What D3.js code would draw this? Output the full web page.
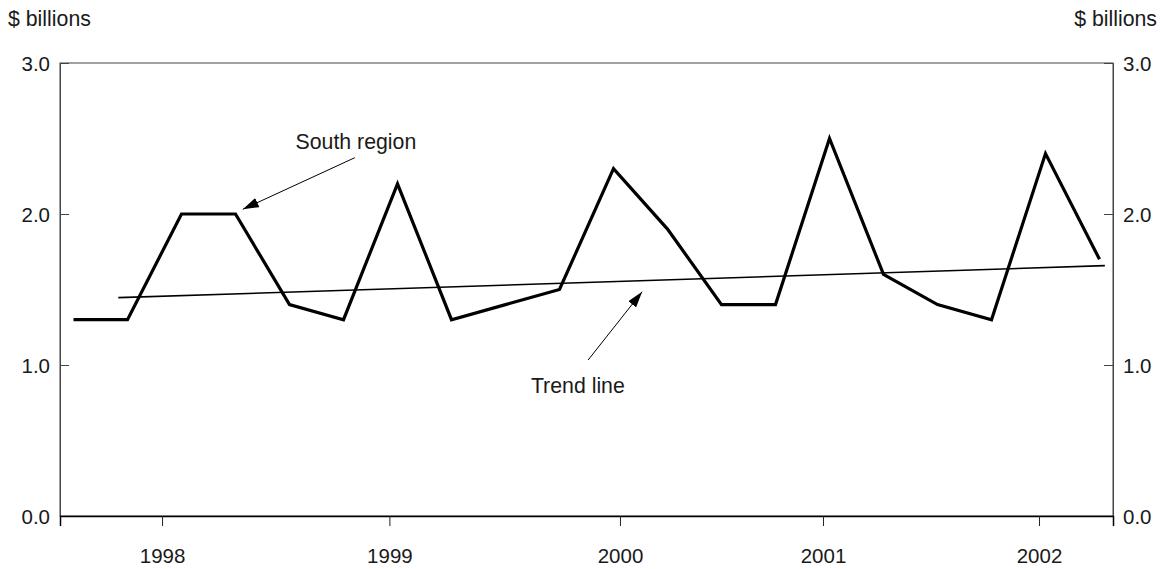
<!DOCTYPE html>
<html>
<head>
<meta charset="utf-8">
<script src="https://cdn.jsdelivr.net/npm/d3@7/dist/d3.min.js"></script>
<style>
  html, body { margin: 0; padding: 0; background: #fff; }
  svg { display: block; font-family: "Liberation Sans", Arial, Helvetica, sans-serif; }
</style>
</head>
<body>
<svg id="chart" width="1167" height="569"></svg>
<script>
// ---- data ----
const quarters = [
  "1998 Q1","1998 Q2","1998 Q3","1998 Q4",
  "1999 Q1","1999 Q2","1999 Q3","1999 Q4",
  "2000 Q1","2000 Q2","2000 Q3","2000 Q4",
  "2001 Q1","2001 Q2","2001 Q3","2001 Q4",
  "2002 Q1","2002 Q2","2002 Q3","2002 Q4"
];
const southRegion = [1.3, 1.3, 2.0, 2.0, 1.4, 1.3, 2.2, 1.3, 1.4, 1.5, 2.3, 1.9, 1.4, 1.4, 2.5, 1.6, 1.4, 1.3, 2.4, 1.7];
// trend line endpoints: [quarter index, value]
const trendLine = [[0.83, 1.446], [19.1, 1.658]];
// year tick labels and their positions (in quarter-index units)
const yearLabels = ["1998", "1999", "2000", "2001", "2002"];
const yearTickPos = [1.64, 5.85, 10.12, 13.88, 17.88];
const yTicks = [0, 1, 2, 3];
// annotations: text position and arrow from -> to, in data units
const annotations = [
  { text: "South region", tx: 5.23, ty: 2.43, from: [5.21, 2.373], to: [3.135, 2.031] },
  { text: "Trend line",   tx: 9.34, ty: 0.815, from: [9.53, 1.033], to: [10.53, 1.485] }
];

(function () {
// ---- layout ----
const svg = d3.select("#chart");
const mLeft = 60, mRight = 1113, mTop = 63, mBottom = 516;
const x = d3.scaleLinear().domain([-0.25, 19.25]).range([mLeft, mRight]);
const y = d3.scaleLinear().domain([0, 3]).range([mBottom, mTop]);
const fontSize = 20.5;
const bigFont = 21.3;
const textColor = "#1a1a1a";

// frame
svg.append("rect")
  .attr("x", mLeft).attr("y", mTop)
  .attr("width", mRight - mLeft).attr("height", mBottom - mTop)
  .attr("fill", "none").attr("stroke", "#444").attr("stroke-width", 1);

// left / right axes (ticks inward)
const yLeft = d3.axisRight(y).tickValues(yTicks).tickSize(9).tickFormat("");
const gL = svg.append("g").attr("transform", `translate(${mLeft},0)`).call(yLeft);
gL.select(".domain").attr("stroke", "#444");
gL.selectAll(".tick line").attr("stroke", "#444");

const yRight = d3.axisLeft(y).tickValues(yTicks).tickSize(9).tickFormat("");
const gR = svg.append("g").attr("transform", `translate(${mRight},0)`).call(yRight);
gR.select(".domain").attr("stroke", "#444");
gR.selectAll(".tick line").attr("stroke", "#444");

// y labels
svg.append("g").selectAll("text").data(yTicks).join("text")
  .attr("x", mLeft - 10).attr("y", d => y(d) + 7.5)
  .attr("text-anchor", "end").attr("font-size", fontSize).attr("fill", textColor)
  .text(d => d3.format(".1f")(d));
svg.append("g").selectAll("text").data(yTicks).join("text")
  .attr("x", mRight + 10).attr("y", d => y(d) + 7.5)
  .attr("text-anchor", "start").attr("font-size", fontSize).attr("fill", textColor)
  .text(d => d3.format(".1f")(d));

// units
svg.append("text").attr("x", 8).attr("y", 26).attr("font-size", bigFont).attr("fill", textColor).text("$ billions");
svg.append("text").attr("x", 1157).attr("y", 26).attr("text-anchor", "end").attr("font-size", bigFont).attr("fill", textColor).text("$ billions");

// bottom axis
const xAxis = d3.axisBottom(x).tickValues(yearTickPos).tickSize(10)
  .tickFormat((d, i) => yearLabels[i]).tickPadding(22);
const gB = svg.append("g").attr("transform", `translate(0,${mBottom})`).call(xAxis);
gB.select(".domain").attr("stroke", "#000").attr("stroke-width", 1.5);
gB.selectAll(".tick line").attr("stroke", "#222");
gB.selectAll(".tick text").attr("font-size", fontSize).attr("fill", textColor)
  .attr("font-family", "'Liberation Sans', Arial, Helvetica, sans-serif");

// trend line
svg.append("path")
  .attr("d", d3.line().x(d => x(d[0])).y(d => y(d[1]))(trendLine))
  .attr("fill", "none").attr("stroke", "#000").attr("stroke-width", 1.6);

// main series
svg.append("path")
  .datum(southRegion)
  .attr("d", d3.line().x((d, i) => x(i)).y(d => y(d)))
  .attr("fill", "none").attr("stroke", "#000").attr("stroke-width", 3.2)
  .attr("stroke-linejoin", "miter");

// arrowhead marker
svg.append("defs").append("marker")
  .attr("id", "arrow").attr("viewBox", "0 0 16 10")
  .attr("refX", 16).attr("refY", 5)
  .attr("markerWidth", 16).attr("markerHeight", 10)
  .attr("markerUnits", "userSpaceOnUse")
  .attr("orient", "auto")
  .append("path").attr("d", "M0,0 L16,5 L0,10 Z").attr("fill", "#000");

// annotations
const ann = svg.append("g");
ann.selectAll("line").data(annotations).join("line")
  .attr("x1", d => x(d.from[0])).attr("y1", d => y(d.from[1]))
  .attr("x2", d => x(d.to[0])).attr("y2", d => y(d.to[1]))
  .attr("stroke", "#000").attr("stroke-width", 1)
  .attr("marker-end", "url(#arrow)");
ann.selectAll("text").data(annotations).join("text")
  .attr("x", d => x(d.tx)).attr("y", d => y(d.ty))
  .attr("text-anchor", "middle").attr("font-size", bigFont).attr("fill", textColor)
  .text(d => d.text);
})();
</script>
</body>
</html>
